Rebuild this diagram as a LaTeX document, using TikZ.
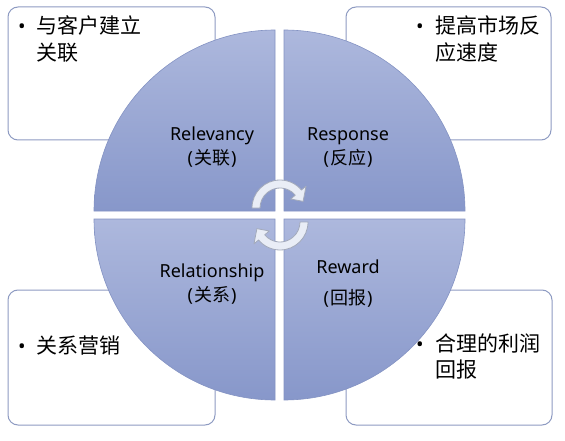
\documentclass[tikz,border=0pt]{standalone}
\usepackage{fontspec}
\setmainfont{Noto Sans}
\newfontfamily\cjk{Noto Sans CJK SC}
\usetikzlibrary{calc}
\definecolor{boxline}{HTML}{8E9BC2}
\definecolor{qtop}{HTML}{ADB8DD}
\definecolor{qbot}{HTML}{8797CA}
\definecolor{qline}{HTML}{8493C3}
\definecolor{arrfill}{HTML}{E9EDF6}
\definecolor{arrline}{HTML}{A3AABB}
\begin{document}
\begin{tikzpicture}[x=1pt,y=1pt,
  cbox/.style={draw=boxline, line width=1pt, rounded corners=10pt, fill=white},
  quad/.style={top color=qtop, bottom color=qbot, draw=qline, line width=0.6pt},
  boxtxt/.style={anchor=base west, inner sep=0pt, font=\cjk\fontsize{21}{25}\selectfont},
  bul/.style={anchor=base, inner sep=0pt, font=\fontsize{20}{24}\selectfont},
  lab/.style={anchor=base, inner sep=0pt, font=\fontsize{18}{22}\selectfont},
  rarrow/.style={draw=arrline, fill=arrfill, line width=0.8pt, line join=round}]
\useasboundingbox (0,0) rectangle (565,440);
\fill[white] (0,0) rectangle (565,440);
% corner boxes
\draw[cbox] (8,300) rectangle (215,433);
\draw[cbox] (346,300) rectangle (551,433);
\draw[cbox] (8,15) rectangle (215,150);
\draw[cbox] (346,15) rectangle (552,150);
% quadrants
\path[quad] (275,229) -- ++(-181,0) arc[start angle=180, end angle=90, radius=181pt] -- cycle;
\path[quad] (284,229) -- ++(0,181) arc[start angle=90, end angle=0, radius=181pt] -- cycle;
\path[quad] (275,221) -- ++(-181,0) arc[start angle=180, end angle=270, radius=181pt] -- cycle;
\path[quad] (284,221) -- ++(181,0) arc[start angle=0, end angle=-90, radius=181pt] -- cycle;
% circular arrows
\coordinate (c1) at (280,232);
\coordinate (c2) at (280,218);
\filldraw[rarrow] ($(c1)+(180:28pt)$) arc[start angle=180, end angle=40, radius=28pt]
  -- ($(c1)+(40:34pt)$) -- ($(c1)+(16:24pt)$) -- ($(c1)+(40:14pt)$) -- ($(c1)+(40:20pt)$)
  arc[start angle=40, end angle=180, radius=20pt] -- cycle;
\filldraw[rarrow] ($(c2)+(0:28pt)$) arc[start angle=0, end angle=-140, radius=28pt]
  -- ($(c2)+(-140:34pt)$) -- ($(c2)+(-164:24pt)$) -- ($(c2)+(-140:14pt)$) -- ($(c2)+(-140:20pt)$)
  arc[start angle=-140, end angle=0, radius=20pt] -- cycle;
% box texts
\node[bul] (b1) at (22,406) {•};
\node[boxtxt] (t1a) at (36,406) {与客户建立};
\node[boxtxt] (t1b) at (36,379.5) {关联};
\node[bul] (b2) at (420,406) {•};
\node[boxtxt] (t2a) at (435,406) {提高市场反};
\node[boxtxt] (t2b) at (435,379.5) {应速度};
\node[bul] (b3) at (22,86.5) {•};
\node[boxtxt] (t3a) at (36,86.5) {关系营销};
\node[bul] (b4) at (420,88.5) {•};
\node[boxtxt] (t4a) at (435,88.5) {合理的利润};
\node[boxtxt] (t4b) at (435,62.5) {回报};
% circle labels
\node[lab] (l1) at (212,299) {Relevancy};
\node[lab] (l1c) at (212,276) {(\kern1pt{\cjk 关联}\kern1pt)};
\node[lab] (l2) at (348,299) {Response};
\node[lab] (l2c) at (348,276) {(\kern1pt{\cjk 反应}\kern1pt)};
\node[lab] (l3) at (212,163) {Relationship};
\node[lab] (l3c) at (212,139) {(\kern1pt{\cjk 关系}\kern1pt)};
\node[lab] (l4) at (348,167) {Reward};
\node[lab] (l4c) at (348,136) {(\kern1pt{\cjk 回报}\kern1pt)};
\end{tikzpicture}
\end{document}
